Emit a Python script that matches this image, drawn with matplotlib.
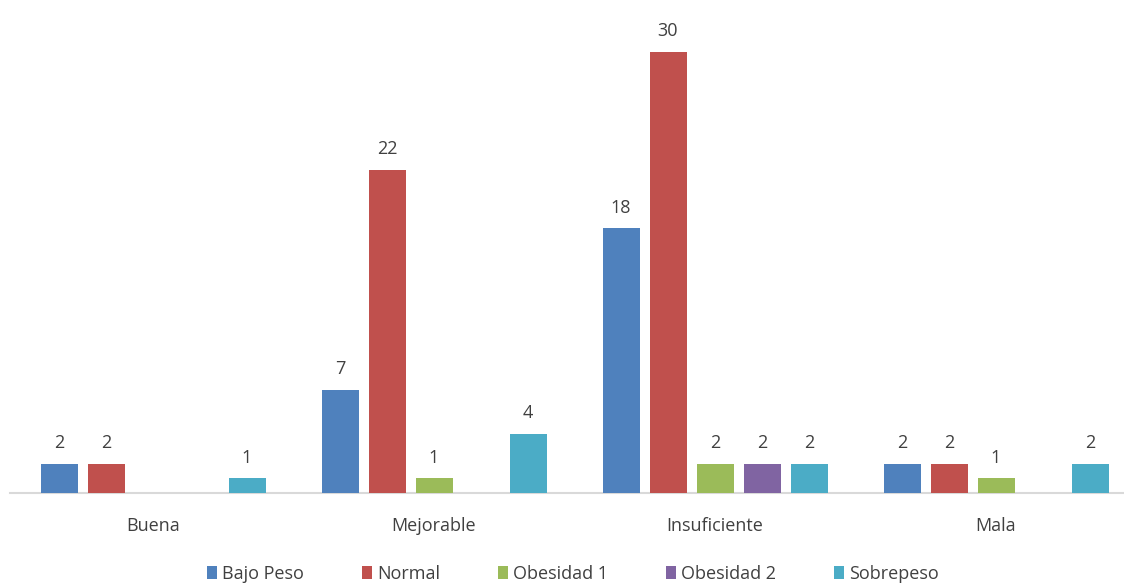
import numpy as np
import matplotlib
matplotlib.use("Agg")
import matplotlib.pyplot as plt

# -----------------------------
# DATA
# -----------------------------
categorias = ["Buena", "Mejorable", "Insuficiente", "Mala"]
bajo_peso = [2, 7, 18, 2]
normal = [2, 22, 30, 2]
obesidad_1 = [0, 1, 2, 1]
obesidad_2 = [0, 0, 2, 0]
sobrepeso = [1, 4, 2, 2]

series = ["Bajo Peso", "Normal", "Obesidad 1", "Obesidad 2", "Sobrepeso"]
valores = [bajo_peso, normal, obesidad_1, obesidad_2, sobrepeso]
colores = ["#4F81BD", "#C0504D", "#9BBB59", "#8064A2", "#4BACC6"]

plt.rcParams["font.family"] = ["Open Sans", "DejaVu Sans"]

# -----------------------------
# PLOT
# -----------------------------
fig = plt.figure(figsize=(11.24, 5.85), dpi=100)
ax = fig.add_axes([10 / 1124, 92 / 585, 1114 / 1124, 470 / 585])

x = np.arange(len(categorias))
paso = 47 / 281
ancho = 37 / 281

for i, (nombre, vals, col) in enumerate(zip(series, valores, colores)):
    pos = x + (i - 2) * paso
    ax.bar(pos, vals, ancho, color=col, label=nombre, zorder=3)
    for p, v in zip(pos, vals):
        if v > 0:
            ax.text(p, v + 0.8, str(v), ha="center", va="bottom",
                    fontsize=13, color="#404040")

ax.set_xlim(-143 / 281, 971 / 281)
ax.set_ylim(0, 470 / 14.7)
ax.set_yticks([])
ax.set_xticks(x)
ax.set_xticklabels(categorias, fontsize=13, color="#404040")
ax.tick_params(axis="x", length=0, pad=17)
for s in ["top", "right", "left"]:
    ax.spines[s].set_visible(False)
ax.spines["bottom"].set_color("#D9D9D9")
ax.spines["bottom"].set_linewidth(1.5)

leg = fig.legend(loc="center", bbox_to_anchor=(573 / 1124, 11 / 585), ncol=5,
                 frameon=False, fontsize=13, handlelength=0.55, handleheight=0.7,
                 handletextpad=0.3, columnspacing=3.2)
for t in leg.get_texts():
    t.set_color("#404040")

fig.savefig("out.png", dpi=100)
